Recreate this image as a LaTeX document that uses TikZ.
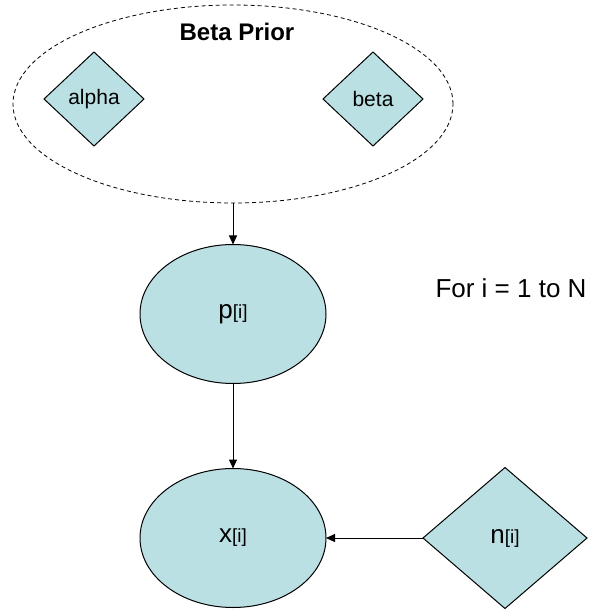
\documentclass[tikz,border=0pt]{standalone}
\usepackage{fontspec}
\setmainfont{Liberation Sans}
\usetikzlibrary{shapes.geometric,arrows.meta}
\definecolor{nodefill}{RGB}{187,224,227}
\newcommand{\bigsym}[1]{{\fontsize{26}{30}\selectfont #1}{\fontsize{19}{22}\selectfont [i]}}
\begin{document}
\begin{tikzpicture}[x=1pt,y=-1pt,
  every node/.style={inner sep=0pt, outer sep=0pt},
  stochnode/.style={ellipse, draw=black, line width=1pt, fill=nodefill, minimum width=186pt, minimum height=139pt},
  constnode/.style={diamond, draw=black, line width=1pt, fill=nodefill},
  conn/.style={line width=1pt, -{Triangle[length=9pt,width=8pt]}},
  bigtxt/.style={font=\fontsize{26}{30}\selectfont},
  smalltxt/.style={font=\fontsize{21}{25}\selectfont}]
\useasboundingbox (0,0) rectangle (599,609);
% Beta prior plate
\node[ellipse, draw=black, dash pattern=on 4pt off 3pt, line width=0.8pt,
      minimum width=440pt, minimum height=198pt] (prior) at (233,104) {};
\node[font=\bfseries\fontsize{24}{28}\selectfont] (priorlabel) at (237,32) {Beta Prior};
\node[constnode, minimum width=100pt, minimum height=94pt, smalltxt] (alpha) at (94,99) {alpha};
\node[constnode, minimum width=100pt, minimum height=94pt, smalltxt] (beta) at (373,99) {beta};
% stochastic nodes
\node[stochnode] (p) at (233,314) {\bigsym{p}};
\node[stochnode] (x) at (233,538) {\bigsym{x}};
\node[constnode, minimum width=164pt, minimum height=141pt] (n) at (505,538) {\bigsym{n}};
\node[bigtxt] (loop) at (511,288) {For i = 1 to N};
% connectors
\draw[conn] (prior.south) -- (p.north);
\draw[conn] (p.south) -- (x.north);
\draw[conn] (n.west) -- (x.east);
\end{tikzpicture}
\end{document}
